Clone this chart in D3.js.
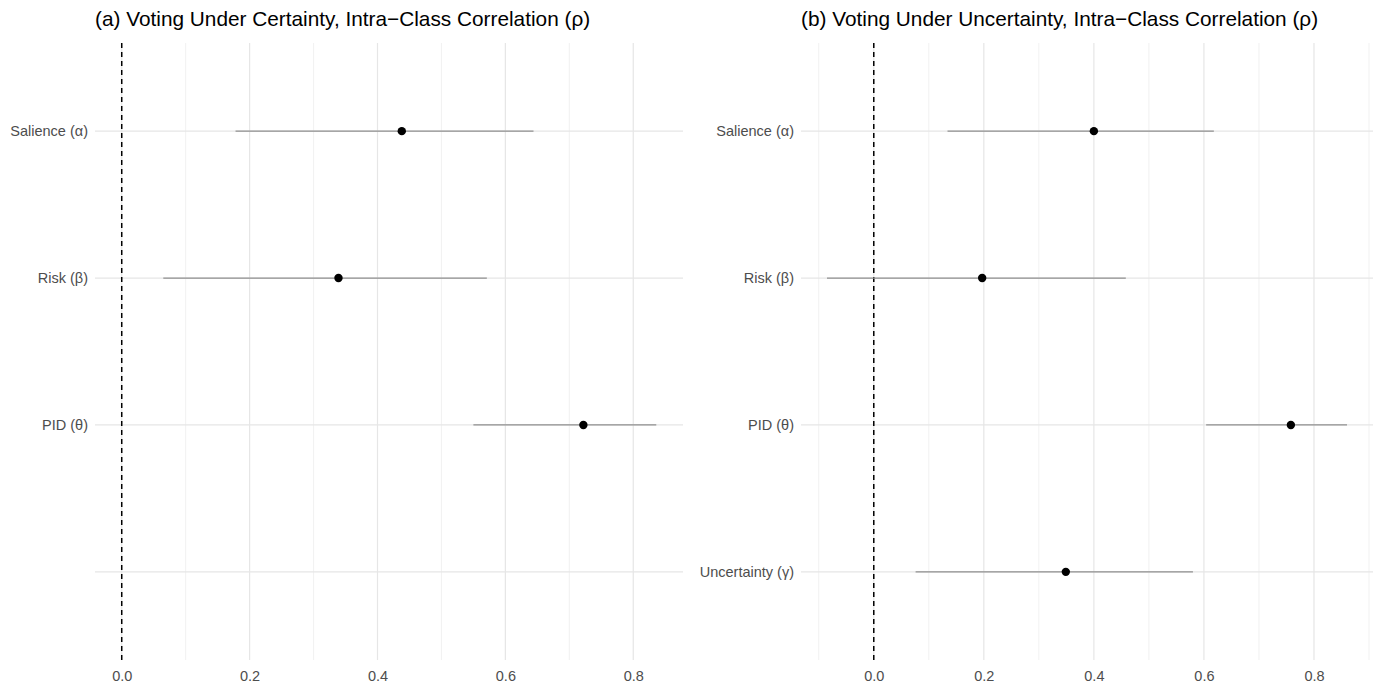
<!DOCTYPE html>
<html>
<head>
<meta charset="utf-8">
<script src="https://cdn.jsdelivr.net/npm/d3@7"></script>
<style>
  body { margin: 0; background: #fff; }
  text { font-family: "Liberation Sans", Arial, Helvetica, sans-serif; }
</style>
</head>
<body>
<svg id="chart" width="1378" height="685"></svg>
<script>
// panel (a): certainty
const catsA = ["Salience (α)", "Risk (β)", "PID (θ)", ""];
const estA = [0.438, 0.339, 0.722, null];
const lowA = [0.178, 0.065, 0.550, null];
const highA = [0.644, 0.571, 0.836, null];

// panel (b): uncertainty
const catsB = ["Salience (α)", "Risk (β)", "PID (θ)", "Uncertainty (γ)"];
const estB = [0.400, 0.197, 0.758, 0.349];
const lowB = [0.134, -0.085, 0.604, 0.076];
const highB = [0.618, 0.458, 0.860, 0.580];

const xTicks = [0, 0.2, 0.4, 0.6, 0.8];
const titles = [
  "(a) Voting Under Certainty, Intra\u2212Class Correlation (\u03c1)",
  "(b) Voting Under Uncertainty, Intra\u2212Class Correlation (\u03c1)"
];

const svg = d3.select("#chart");
const panelTop = 43, panelBottom = 660;

function panel(cats, est, low, high, title, left, right) {
  const rows = cats.map((c, i) => ({ cat: i, label: c, est: est[i], low: low[i], high: high[i] }));
  const valid = rows.filter((d) => d.est != null);

  // ggplot-style 5% expansion, always including 0
  let lo = d3.min(valid, (d) => d.low), hi = d3.max(valid, (d) => d.high);
  lo = Math.min(lo, 0);
  const pad = (hi - lo) * 0.05;
  const x = d3.scaleLinear().domain([lo - pad, hi + pad]).range([left, right]);

  const step = (panelBottom - panelTop) / (cats.length - 1 + 1.2);
  const y = d3.scalePoint().domain(d3.range(cats.length))
    .range([panelTop + 0.6 * step, panelBottom - 0.6 * step]);

  const g = svg.append("g");

  // minor grid
  const minor = d3.range(-1, 10).map((v) => v / 10).filter((v) => Math.round(v * 10) % 2 !== 0)
    .filter((v) => x(v) >= left && x(v) <= right);
  g.selectAll(".minor").data(minor).join("line")
    .attr("x1", (d) => x(d)).attr("x2", (d) => x(d))
    .attr("y1", panelTop).attr("y2", panelBottom)
    .attr("stroke", "#ebebeb").attr("stroke-width", 0.7);

  // major grid
  g.selectAll(".vmajor").data(xTicks).join("line")
    .attr("x1", (d) => x(d)).attr("x2", (d) => x(d))
    .attr("y1", panelTop).attr("y2", panelBottom)
    .attr("stroke", "#e6e6e6").attr("stroke-width", 1.2);
  g.selectAll(".hmajor").data(rows).join("line")
    .attr("x1", left).attr("x2", right)
    .attr("y1", (d) => y(d.cat)).attr("y2", (d) => y(d.cat))
    .attr("stroke", "#e6e6e6").attr("stroke-width", 1.2);

  // zero line
  g.append("line")
    .attr("x1", x(0)).attr("x2", x(0))
    .attr("y1", panelTop).attr("y2", panelBottom)
    .attr("stroke", "#000").attr("stroke-width", 1.5)
    .attr("stroke-dasharray", "5,4");

  // intervals
  g.selectAll(".ci").data(valid).join("line")
    .attr("x1", (d) => x(d.low)).attr("x2", (d) => x(d.high))
    .attr("y1", (d) => y(d.cat)).attr("y2", (d) => y(d.cat))
    .attr("stroke", "#8f8f8f").attr("stroke-width", 1.2);

  g.selectAll(".pt").data(valid).join("circle")
    .attr("cx", (d) => x(d.est)).attr("cy", (d) => y(d.cat))
    .attr("r", 4.2).attr("fill", "#000");

  // axes (text only, theme_minimal)
  const xAxis = g.append("g").attr("transform", `translate(0,${panelBottom})`)
    .call(d3.axisBottom(x).tickValues(xTicks).tickFormat(d3.format(".1f")).tickSize(0).tickPadding(11));
  xAxis.select(".domain").remove();
  xAxis.selectAll("text").attr("fill", "#4d4d4d").style("font-size", "14.5px");

  const yAxis = g.append("g").attr("transform", `translate(${left},0)`)
    .call(d3.axisLeft(y).tickFormat((i) => cats[i]).tickSize(0).tickPadding(7));
  yAxis.select(".domain").remove();
  yAxis.selectAll("text").attr("fill", "#4d4d4d").style("font-size", "14.5px");

  g.append("text")
    .attr("x", left).attr("y", 26)
    .attr("fill", "#000")
    .style("font-size", "20.8px")
    .text(title);
}

panel(catsA, estA, lowA, highA, titles[0], 95, 683);
panel(catsB, estB, lowB, highB, titles[1], 801, 1373);
</script>
</body>
</html>
